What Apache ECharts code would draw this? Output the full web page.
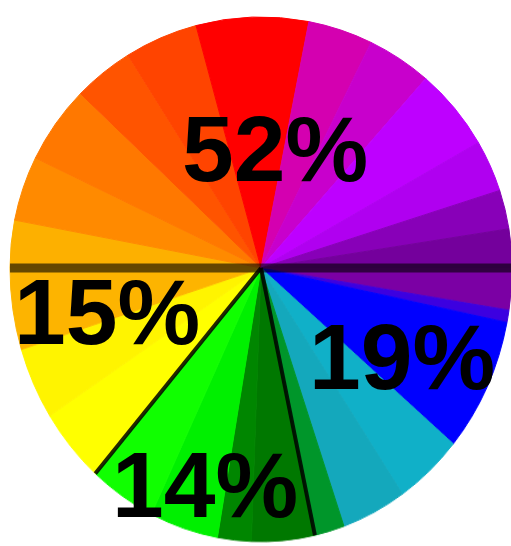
<!DOCTYPE html>
<html>
<head>
<meta charset="utf-8">
<script src="https://cdn.jsdelivr.net/npm/echarts@6/dist/echarts.min.js"></script>
<style>
  html, body { margin: 0; padding: 0; background: #fff; }
  #wrap { position: relative; width: 511px; height: 546px; overflow: hidden; }
  /* the lower half of the picture is drawn taller than it is wide */
  #lower { position: absolute; left: 0; top: 248px; width: 511px; height: 290px;
           transform: scaleY(1.09); transform-origin: 0 20px; }
  #upper { position: absolute; left: 0; top: 0; width: 511px; height: 546px; }
</style>
</head>
<body>
<div id="wrap">
  <div id="lower"></div>
  <div id="upper"></div>
</div>
<script type="text/javascript">

// top half, clockwise from 9 o'clock (degrees)
var upperSpans  = [11, 15, 18, 14, 17, 26, 15, 15, 19, 12, 9, 9];
var upperColors = ['#fdb000', '#ff8a00', '#ff7800', '#ff5400', '#ff4400', '#ff0000',
                   '#d400b0', '#c800cc', '#be00ff', '#b000f0', '#8800b8', '#74009c'];

// bottom half, clockwise from 3 o'clock (degrees)
var lowerSpans  = [8.9, 2.6, 28.5, 15.7, 15.0, 6.9, 14.6, 7.8, 15.9, 15.4, 16.0, 15.4, 17.3];
var lowerColors = ['#7b00a4', '#3c00e0', '#0000ff', '#10b0c8', '#14a8bc', '#00962a',
                   '#007800', '#008600', '#00f000', '#10ff00', '#ffff00', '#fff400', '#fdb400'];
var lowerGroup  = [1, 1, 1, 1, 1, 1, 2, 2, 2, 2, 3, 3, 3];

var groupLabels = ['52%', '19%', '14%', '15%'];

// layout
var CX = 261, CY = 268, R = 251, SY = 1.09;
var labelPos = [[275, 155], [402, 363], [205, 491], [107, 318]];

function slices(spans, colors) {
  return spans.map(function (v, i) {
    return { value: v, itemStyle: { color: colors[i], borderColor: colors[i], borderWidth: 1 } };
  });
}

function pieSeries(data, center, startAngle, endAngle) {
  return {
    type: 'pie',
    center: center,
    radius: R,
    startAngle: startAngle,
    endAngle: endAngle,
    clockwise: true,
    silent: true,
    animation: false,
    label: { show: false },
    labelLine: { show: false },
    emphasis: { disabled: true },
    data: data
  };
}

var lowerChart = echarts.init(document.getElementById('lower'));
lowerChart.setOption({
  animation: false,
  series: [pieSeries(slices(lowerSpans, lowerColors), [CX, 20], 0, -180)]
});

// divider lines between the groups
var graphics = [];
graphics.push({
  type: 'line', z: 100,
  shape: { x1: CX - R, y1: CY, x2: CX + R, y2: CY },
  style: { stroke: 'rgba(0,0,0,0.6)', lineWidth: 9 }
});
var acc = 0;
for (var i = 0; i < lowerSpans.length - 1; i++) {
  acc += lowerSpans[i];
  if (lowerGroup[i] !== lowerGroup[i + 1]) {
    var a = acc * Math.PI / 180;
    graphics.push({
      type: 'line', z: 100,
      shape: { x1: CX, y1: CY, x2: CX + R * Math.cos(a), y2: CY + R * Math.sin(a) * SY },
      style: { stroke: 'rgba(0,0,0,0.85)', lineWidth: 4 }
    });
  }
}
groupLabels.forEach(function (t, k) {
  graphics.push({
    type: 'text', z: 110,
    x: labelPos[k][0], y: labelPos[k][1],
    style: {
      text: t, fill: '#000',
      font: 'bold 93px "Liberation Sans", Arial, sans-serif',
      align: 'center', verticalAlign: 'middle',
      textAlign: 'center', textVerticalAlign: 'middle'
    }
  });
});

var upperChart = echarts.init(document.getElementById('upper'));
upperChart.setOption({
  animation: false,
  graphic: graphics,
  series: [pieSeries(slices(upperSpans, upperColors), [CX, CY], 180, 0)]
});

</script>
</body>
</html>
